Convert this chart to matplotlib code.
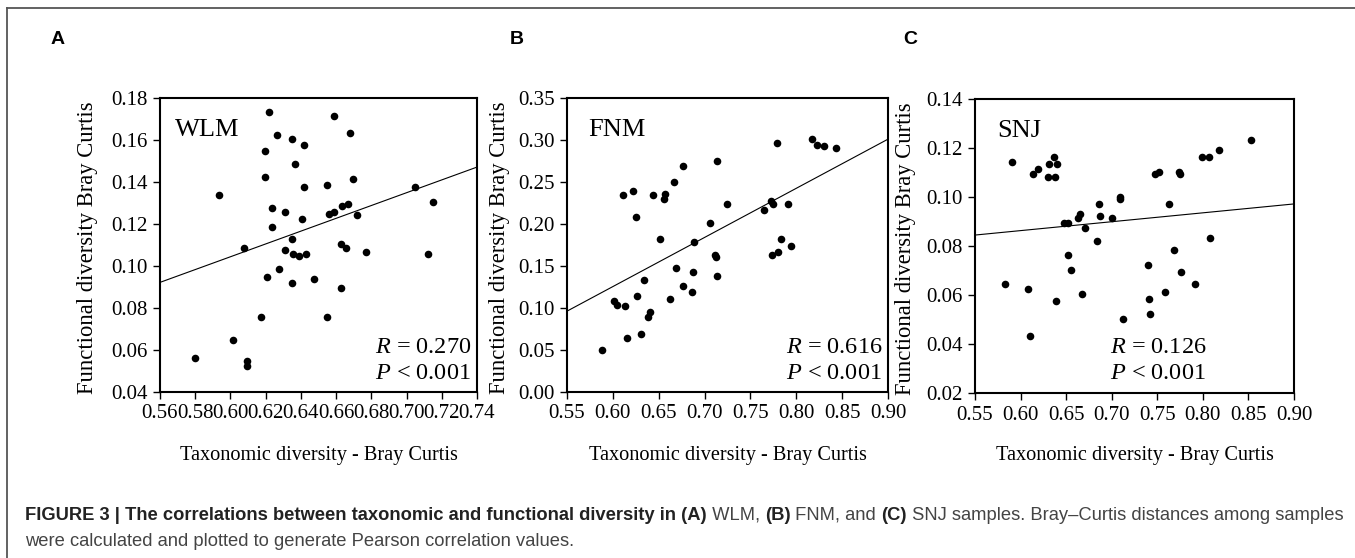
import numpy as np
import matplotlib
matplotlib.use("Agg")
import matplotlib.pyplot as plt
from matplotlib.lines import Line2D

plt.rcParams['font.family'] = 'Liberation Serif'
plt.rcParams['mathtext.fontset'] = 'custom'
plt.rcParams['mathtext.rm'] = 'Liberation Serif'
plt.rcParams['mathtext.it'] = 'Liberation Serif:italic'

# --- data ---
wlm_x = [0.5796, 0.5936, 0.6016, 0.6077, 0.6096, 0.6096, 0.6176, 0.6197, 0.6197, 0.6206,
         0.6218, 0.6237, 0.6237, 0.6265, 0.6278, 0.6307, 0.6307, 0.6347, 0.6347, 0.6347,
         0.6356, 0.6368, 0.6387, 0.6408, 0.6417, 0.6417, 0.6427, 0.6476, 0.6548, 0.6548,
         0.6558, 0.6586, 0.6586, 0.6626, 0.6626, 0.6636, 0.6657, 0.6666, 0.6677, 0.6696,
         0.6717, 0.6769, 0.7050, 0.7120, 0.7151]
wlm_y = [0.0564, 0.1336, 0.0647, 0.1084, 0.0548, 0.0526, 0.0756, 0.1546, 0.1425, 0.0946,
         0.1735, 0.1275, 0.1186, 0.1625, 0.0986, 0.1256, 0.1075, 0.1604, 0.1127, 0.0917,
         0.1057, 0.1485, 0.1049, 0.1226, 0.1576, 0.1375, 0.1056, 0.0936, 0.1385, 0.0756,
         0.1246, 0.1716, 0.1256, 0.1106, 0.0896, 0.1285, 0.1086, 0.1294, 0.1635, 0.1414,
         0.1245, 0.1067, 0.1375, 0.1056, 0.1304]

fnm_x = [0.5879, 0.6013, 0.6046, 0.6115, 0.6137, 0.6159, 0.6217, 0.6257, 0.6265, 0.6308,
         0.6338, 0.6378, 0.6407, 0.6436, 0.6509, 0.6567, 0.6560, 0.6625, 0.6669, 0.6687,
         0.6767, 0.6767, 0.6858, 0.6869, 0.6888, 0.7059, 0.7113, 0.7124, 0.7135, 0.7135,
         0.7244, 0.7649, 0.7729, 0.7743, 0.7736, 0.7787, 0.7798, 0.7831, 0.7915, 0.7944,
         0.8166, 0.8228, 0.8297, 0.8428]
fnm_y = [0.0505, 0.1078, 0.1030, 0.2343, 0.1022, 0.0644, 0.2395, 0.2084, 0.1142, 0.0692,
         0.1333, 0.0895, 0.0947, 0.2351, 0.1822, 0.2355, 0.2295, 0.1106, 0.2502, 0.1476,
         0.2693, 0.1265, 0.1185, 0.1432, 0.1782, 0.2009, 0.1635, 0.1603, 0.2745, 0.1384,
         0.2235, 0.2168, 0.2275, 0.2239, 0.1635, 0.2963, 0.1671, 0.1822, 0.2243, 0.1742,
         0.3015, 0.2936, 0.2924, 0.2904]

snj_x = [0.5829, 0.5910, 0.6078, 0.6100, 0.6140, 0.6188, 0.6297, 0.6316, 0.6367, 0.6378,
         0.6400, 0.6385, 0.6473, 0.6517, 0.6517, 0.6557, 0.6634, 0.6656, 0.6674, 0.6707,
         0.6835, 0.6857, 0.6875, 0.7007, 0.7087, 0.7087, 0.7128, 0.7395, 0.7406, 0.7420,
         0.7475, 0.7515, 0.7585, 0.7632, 0.7680, 0.7738, 0.7749, 0.7757, 0.7914, 0.7994,
         0.8071, 0.8079, 0.8177, 0.8525]
snj_y = [0.0644, 0.1143, 0.0624, 0.0433, 0.1093, 0.1113, 0.1083, 0.1133, 0.1164, 0.1083,
         0.1133, 0.0574, 0.0894, 0.0894, 0.0763, 0.0704, 0.0914, 0.0932, 0.0604, 0.0873,
         0.0822, 0.0973, 0.0923, 0.0914, 0.1002, 0.0992, 0.0503, 0.0724, 0.0583, 0.0523,
         0.1092, 0.1104, 0.0613, 0.0973, 0.0784, 0.1104, 0.1092, 0.0692, 0.0644, 0.1162,
         0.1162, 0.0834, 0.1193, 0.1232]

# fitted lines (slope, intercept) as drawn in the figure
fit_slope = [0.305, 0.585, 0.0363]
fit_icept = [-0.0786, -0.2255, 0.0645]

sites = ['WLM', 'FNM', 'SNJ']
panel_letters = ['A', 'B', 'C']
r_values = ['0.270', '0.616', '0.126']
p_text = '< 0.001'

xlims = [(0.56, 0.74), (0.55, 0.90), (0.55, 0.90)]
ylims = [(0.04, 0.18), (0.00, 0.35), (0.02, 0.14)]
xticks = [np.arange(0.56, 0.7401, 0.02), np.arange(0.55, 0.9001, 0.05), np.arange(0.55, 0.9001, 0.05)]
yticks = [np.arange(0.04, 0.1801, 0.02), np.arange(0.00, 0.3501, 0.05), np.arange(0.02, 0.1401, 0.02)]

xs = [wlm_x, fnm_x, snj_x]
ys = [wlm_y, fnm_y, snj_y]

W, H = 1355, 558
fig = plt.figure(figsize=(W / 100, H / 100), dpi=100)

# axes boxes in pixels: left, top, right, bottom
boxes = [(160, 98, 477, 392), (567, 98, 888, 392), (975, 99, 1294, 393)]
ylab_right = [98, 510, 916]
letter_pos = [(58, 40), (517, 40), (910, 40)]

for i in range(3):
    l, t, r, b = boxes[i]
    ax = fig.add_axes([l / W, 1 - b / H, (r - l) / W, (b - t) / H])
    ax.scatter(xs[i], ys[i], s=30, color='black', linewidths=0, zorder=3)
    xx = np.array(xlims[i])
    ax.plot(xx, fit_slope[i] * xx + fit_icept[i], color='black', lw=0.8)
    ax.set_xlim(*xlims[i])
    ax.set_ylim(*ylims[i])
    ax.set_xticks(xticks[i])
    ax.set_yticks(yticks[i])
    ax.xaxis.set_major_formatter('{x:.2f}')
    ax.yaxis.set_major_formatter('{x:.2f}')
    ax.tick_params(direction='out', length=5, width=1, labelsize=15, pad=4)
    for sp in ax.spines.values():
        sp.set_linewidth(1.5)
    ax.set_xlabel('Taxonomic diversity - Bray Curtis', fontsize=14.6)
    ax.xaxis.set_label_coords(0.5, (b - 446) / (b - t))
    ax.set_ylabel('Functional diversity Bray Curtis', fontsize=16.3)
    ax.yaxis.set_label_coords((ylab_right[i] - l) / (r - l), 0.49)

    site_x = [0.047, 0.065, 0.069][i]
    ax.text(site_x, 0.89, sites[i], transform=ax.transAxes, fontsize=19,
            ha='left', va='center')
    if i < 2:
        ax.text(0.982, 0.15, '$R$ = ' + r_values[i], transform=ax.transAxes,
                fontsize=17.5, ha='right', va='center')
        ax.text(0.982, 0.062, '$P$ ' + p_text, transform=ax.transAxes,
                fontsize=17.5, ha='right', va='center')
    else:
        ax.text(0.423, 0.155, '$R$ = ' + r_values[i], transform=ax.transAxes,
                fontsize=17.5, ha='left', va='center')
        ax.text(0.423, 0.068, '$P$ ' + p_text, transform=ax.transAxes,
                fontsize=17.5, ha='left', va='center')

    lx, ly = letter_pos[i]
    fig.text(lx / W, 1 - ly / H, panel_letters[i], fontsize=14, fontweight='bold',
             family='Liberation Sans', ha='center', va='center')

# outer frame (top and left edges)
fig.add_artist(Line2D([7 / W, 1], [1 - 8 / H, 1 - 8 / H], color='#555555', lw=1.3))
fig.add_artist(Line2D([7 / W, 7 / W], [0, 1 - 8 / H], color='#555555', lw=1.3))

# caption with mixed bold / regular runs
caption_lines = [
    [('FIGURE 3 | The correlations between taxonomic and functional diversity in (A)', True),
     (' WLM, ', False), ('(B)', True), (' FNM, and ', False), ('(C)', True),
     (' SNJ samples. Bray\u2013Curtis distances among samples', False)],
    [('were calculated and plotted to generate Pearson correlation values.', False)],
]
caption_base = [520, 546]

fig.canvas.draw()
renderer = fig.canvas.get_renderer()
for line, by in zip(caption_lines, caption_base):
    x0 = 25
    for txt, bold in line:
        t = fig.text(x0 / W, 1 - by / H, txt, fontsize=13.2, family='Liberation Sans',
                     fontweight='bold' if bold else 'normal',
                     color='#222222' if bold else '#444444', ha='left', va='baseline')
        bb = t.get_window_extent(renderer=renderer)
        x0 += bb.width

fig.savefig('out.png', dpi=100)
